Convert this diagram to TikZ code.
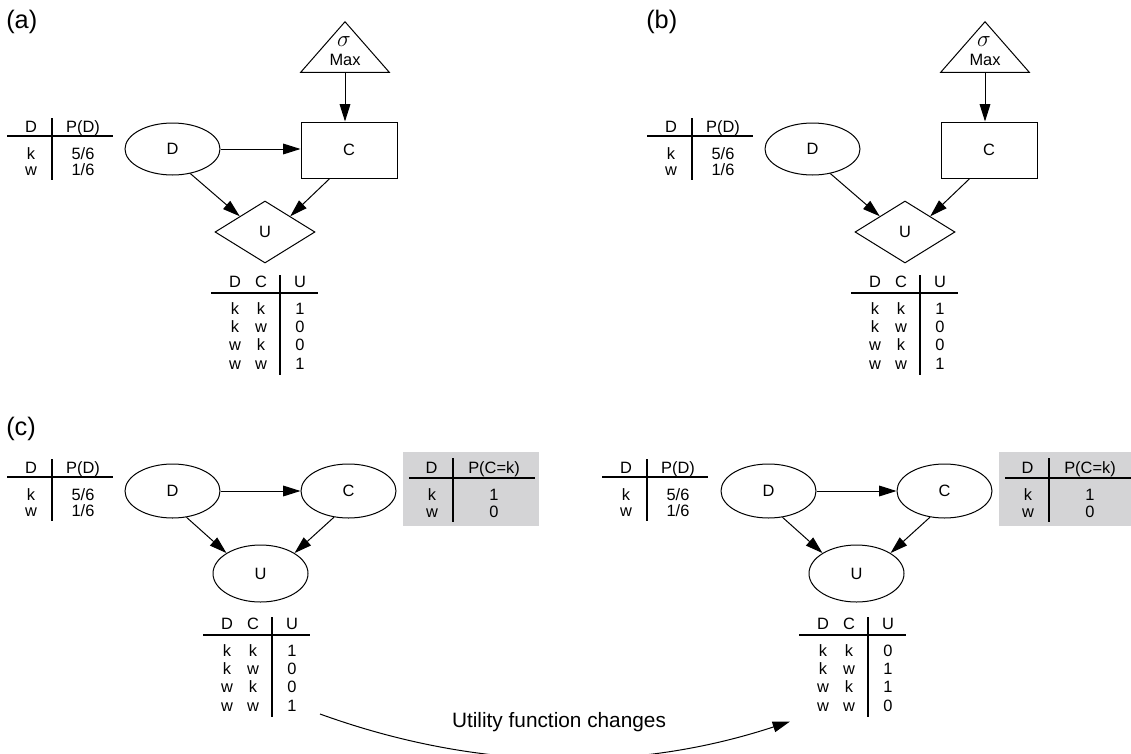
\documentclass[tikz,border=0pt]{standalone}
\usepackage{fontspec}
\setmainfont{Liberation Sans}
\usetikzlibrary{shapes.geometric,arrows.meta,calc}
\definecolor{boxgray}{RGB}{212,212,214}
\tikzset{
  txt/.style={anchor=base,inner sep=0pt,font=\fontsize{12.3}{14}\selectfont},
  lbl/.style={anchor=base west,inner sep=0pt,font=\fontsize{19}{22}\selectfont},
  rulel/.style={line width=1.7pt},
  nodeline/.style={draw,line width=0.75pt,inner sep=0pt,font=\fontsize{12.3}{14}\selectfont},
  ellA/.style={nodeline,ellipse,minimum width=71.25pt,minimum height=39pt},
  ellC/.style={nodeline,ellipse,minimum width=71.25pt,minimum height=40.5pt},
  ellU/.style={nodeline,ellipse,minimum width=71.25pt,minimum height=42.75pt},
  boxn/.style={nodeline,rectangle,minimum width=72pt,minimum height=42pt},
  dia/.style={nodeline,diamond,minimum width=75pt,minimum height=46.5pt},
  trinode/.style={inner sep=0pt,minimum width=66pt,minimum height=37.5pt},
  arr/.style={line width=0.75pt,-{Triangle[length=13pt,width=8pt]}},
}
% P(D) table: prefix, dx, dy
\newcommand{\pdtab}[3]{%
\begin{scope}[shift={(#2,#3)}]
  \node[txt] (#1hd) at (31,132) {D};
  \node[txt] (#1hp) at (83,132) {P(D)};
  \node[txt] (#1ra) at (31,159) {k};
  \node[txt] (#1rb) at (83,159) {5/6};
  \node[txt] (#1sa) at (31,175.5) {w};
  \node[txt] (#1sb) at (83,175.5) {1/6};
  \draw[rulel] (7,136) -- (113,136);
  \draw[rulel] (52,118) -- (52,180);
\end{scope}}
% utility table: prefix, dx, dy, four values
\newcommand{\utab}[7]{%
\begin{scope}[shift={(#2,#3)}]
  \node[txt] (#1hd) at (235,287) {D};
  \node[txt] (#1hc) at (261,287) {C};
  \node[txt] (#1hu) at (300,287) {U};
  \node[txt] (#1aa) at (235,314) {k};
  \node[txt] (#1ab) at (261,314) {k};
  \node[txt] (#1ac) at (300,314) {#4};
  \node[txt] (#1ba) at (235,332.3) {k};
  \node[txt] (#1bb) at (261,332.3) {w};
  \node[txt] (#1bc) at (300,332.3) {#5};
  \node[txt] (#1ca) at (235,350.6) {w};
  \node[txt] (#1cb) at (261,350.6) {k};
  \node[txt] (#1cc) at (300,350.6) {#6};
  \node[txt] (#1da) at (235,369) {w};
  \node[txt] (#1db) at (261,369) {w};
  \node[txt] (#1dc) at (300,369) {#7};
  \draw[rulel] (211,293.3) -- (318,293.3);
  \draw[rulel] (280,275) -- (280,375);
\end{scope}}
% shaded P(C=k) table: prefix, dx, dy
\newcommand{\gtab}[3]{%
\begin{scope}[shift={(#2,#3)}]
  \fill[boxgray] (402.5,452) rectangle (539,526);
  \node[txt] (#1hd) at (431.5,473) {D};
  \node[txt] (#1hp) at (494,473) {P(C=k)};
  \node[txt] (#1ra) at (432,500) {k};
  \node[txt] (#1rb) at (494,500) {1};
  \node[txt] (#1sa) at (432,517) {w};
  \node[txt] (#1sb) at (494,517) {0};
  \draw[rulel] (409,477.7) -- (535,477.7);
  \draw[rulel] (453,458) -- (453,522);
\end{scope}}
% panel with max node: prefix, dx, draw D->C arrow (1/0)
\newcommand{\maxpanel}[3]{%
\begin{scope}[shift={(#2,0)}]
  \node[ellA] (#1D) at (172.5,149) {D};
  \node[boxn] (#1C) at (349,150) {C};
  \node[dia] (#1U) at (265,232) {U};
  \node[trinode] (#1T) at (345,47) {};
  \draw[line width=0.75pt] (#1T.north) -- (#1T.south east) -- (#1T.south west) -- cycle;
  \node[txt,font=\fontsize{16}{18}\selectfont] (#1S) at (344,46.7) {$\sigma$};
  \node[txt] (#1M) at (345,65) {Max};
  \ifnum#3=1 \draw[arr] (#1D.east) -- (#1D.east -| #1C.west);\fi
  \draw[arr] (#1T.south) -- (#1T.south |- #1C.north);
  \draw[arr] (#1D.-54) -- (#1U.north west);
  \draw[arr] (#1C.-124) -- (#1U.north east);
\end{scope}}
% panel (c) graph: prefix, dx
\newcommand{\cpanel}[2]{%
\begin{scope}[shift={(#2,0)}]
  \node[ellC] (#1D) at (172.5,491) {D};
  \node[ellC] (#1C) at (348.5,491) {C};
  \node[ellU] (#1U) at (260.5,573.5) {U};
  \draw[arr] (#1D.east) -- (#1C.west);
  \draw[arr] (#1D.-62) -- (#1U.149);
  \draw[arr] (#1C.-119) -- (#1U.31);
\end{scope}}

\begin{document}
\begin{tikzpicture}[x=0.75pt,y=-0.75pt]
  \useasboundingbox (0,0) rectangle (1131,753);
  \clip (0,0) rectangle (1131,753);
  % labels
  \node[lbl] (la) at (6,28) {(a)};
  \node[lbl] (lb) at (646,28) {(b)};
  \node[lbl] (lc) at (6,435) {(c)};
  % panel (a) and (b)
  \maxpanel{a}{0}{1}
  \maxpanel{b}{640}{0}
  \pdtab{ap}{0}{0}
  \pdtab{bp}{640}{0}
  \utab{au}{0}{0}{1}{0}{0}{1}
  \utab{bu}{640}{0}{1}{0}{0}{1}
  % panel (c)
  \gtab{cg}{0}{0}
  \gtab{eg}{596}{0}
  \cpanel{c}{0}
  \cpanel{e}{596}
  \pdtab{cp}{0}{341}
  \pdtab{ep}{595}{341}
  \utab{cu}{-8}{342}{1}{0}{0}{1}
  \utab{eu}{588}{342}{0}{1}{1}{0}
  % change arrow
  \coordinate (cs) at (320,714);
  \coordinate (ce) at (790,721.5);
  \draw[arr] (cs) .. controls (476.7,770.7) and (633.3,773) .. (ce);
  \node[txt,font=\fontsize{15.6}{18}\selectfont] (chg) at (559,727.3) {Utility function changes};
\end{tikzpicture}
\end{document}
